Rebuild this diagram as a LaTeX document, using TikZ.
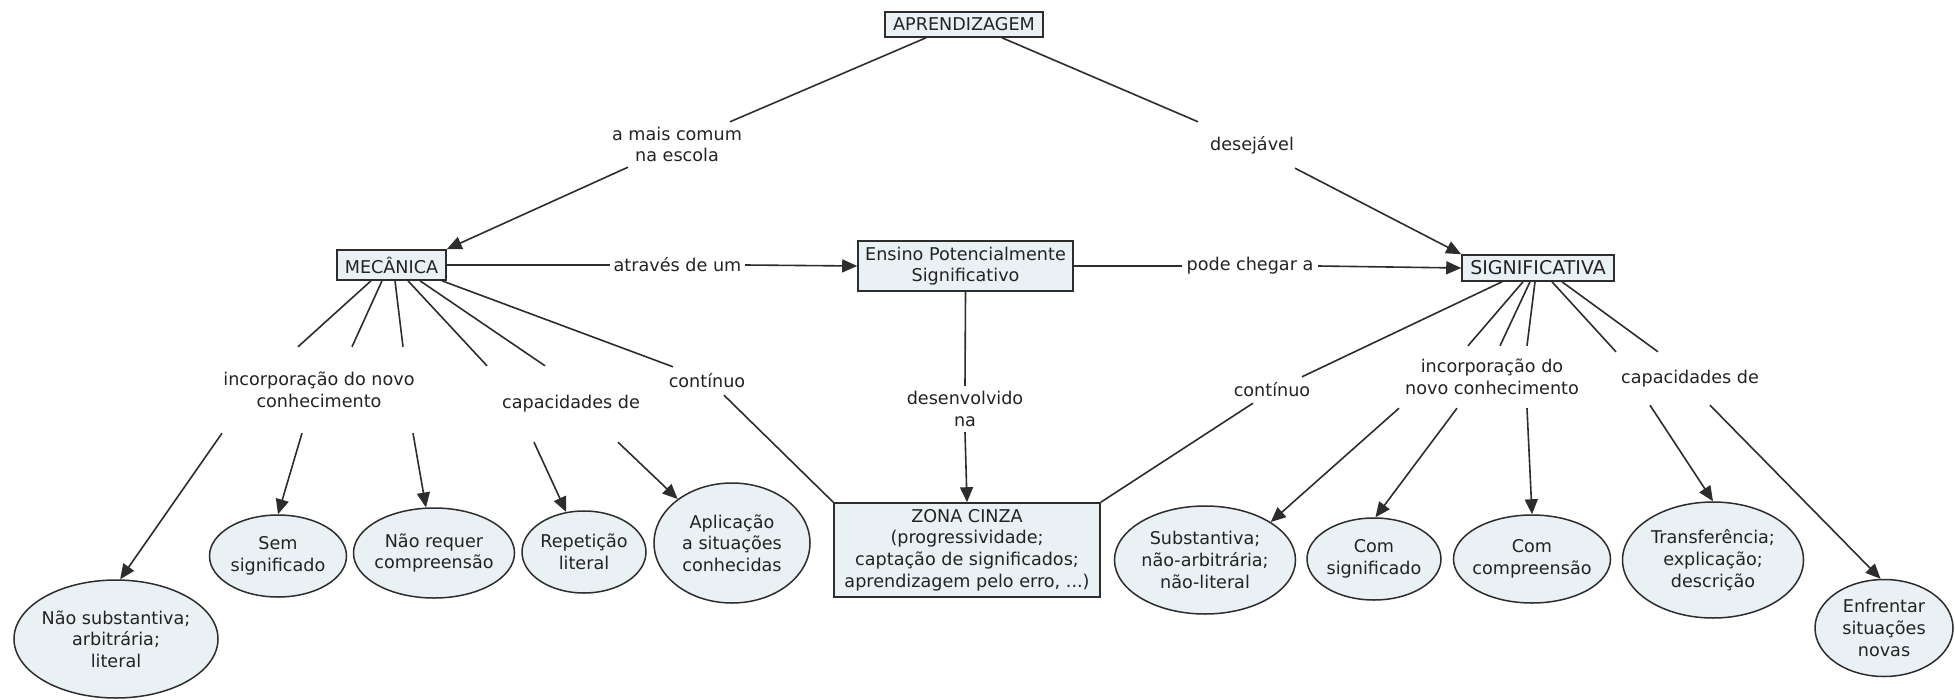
\documentclass[tikz,border=0pt]{standalone}
\usepackage{fontspec}
\setmainfont{DejaVu Sans}
\usetikzlibrary{arrows.meta,shapes.geometric}

\definecolor{conceptfill}{RGB}{233,241,245}
\definecolor{ink}{RGB}{35,35,35}
\definecolor{edge}{RGB}{45,45,45}

\tikzset{
  every node/.style={font=\fontsize{17.6pt}{21.7pt}\selectfont, text=ink},
  conceptbox/.style={draw=edge, line width=1.6pt, fill=conceptfill, rectangle,
    inner sep=0pt, align=center},
  conceptoval/.style={draw=edge, line width=1.5pt, fill=conceptfill, ellipse,
    inner sep=-25pt, align=center},
  linkphrase/.style={inner sep=0pt, align=center},
  link/.style={draw=edge, line width=1.6pt},
  linkarrow/.style={link, -{Triangle[length=15pt,width=13pt]}},
}

\begin{document}
\begin{tikzpicture}[x=1pt,y=-1pt]
\useasboundingbox (0,0) rectangle (1955,699);
\fill[white] (0,0) rectangle (1955,699);

% main concepts
\node[conceptbox, minimum width=158pt, minimum height=25pt] (apr) at (964,24.5) {APRENDIZAGEM};
\node[conceptbox, minimum width=109pt, minimum height=30pt] (mec) at (391.5,265) {MECÂNICA};
\node[conceptbox, minimum width=215pt, minimum height=50pt] (eps) at (965.5,266) {Ensino Potencialmente\\Significativo};
\node[conceptbox, minimum width=152pt, minimum height=26pt,
      font=\fontsize{19pt}{22pt}\selectfont] (sig) at (1538,268) {SIGNIFICATIVA};
\node[conceptbox, minimum width=266pt, minimum height=94pt] (zona) at (967,550)
  {ZONA CINZA\\(progressividade;\\captação de significados;\\aprendizagem pelo erro, ...)};

% outcome concepts
\node[conceptoval, minimum width=204pt, minimum height=118pt] (e1) at (116,639) {Não substantiva;\\arbitrária;\\literal};
\node[conceptoval, minimum width=137pt, minimum height=82pt] (e2) at (278,556) {Sem\\significado};
\node[conceptoval, minimum width=161pt, minimum height=90pt] (e3) at (434,553) {Não requer\\compreensão};
\node[conceptoval, minimum width=124pt, minimum height=82pt] (e4) at (584,552) {Repetição\\literal};
\node[conceptoval, minimum width=156pt, minimum height=120pt] (e5) at (732,543) {Aplicação\\a situações\\conhecidas};
\node[conceptoval, minimum width=181pt, minimum height=108pt] (e6) at (1205,560) {Substantiva;\\não-arbitrária;\\não-literal};
\node[conceptoval, minimum width=134pt, minimum height=82pt] (e7) at (1374,559) {Com\\significado};
\node[conceptoval, minimum width=157pt, minimum height=88pt] (e8) at (1532,559) {Com\\compreensão};
\node[conceptoval, minimum width=181pt, minimum height=116pt] (e9) at (1713,560) {Transferência;\\explicação;\\descrição};
\node[conceptoval, minimum width=138pt, minimum height=97pt] (e10) at (1884,628) {Enfrentar\\situações\\novas};

% linking phrases
\node[linkphrase, minimum height=45pt] (lab1) at (677,144.5) {a mais comum\\na escola};
\node[linkphrase, minimum height=46pt] (lab2) at (1252,145) {desejável};
\node[linkphrase, minimum width=135pt] (lab3) at (677.5,265) {através de um};
\node[linkphrase, minimum width=136pt] (lab4) at (1250,266) {pode chegar a};
\node[linkphrase, minimum height=86pt] (inc1) at (319,390) {incorporação do novo\\conhecimento};
\node[linkphrase, minimum height=76pt] (cap1) at (571,404) {capacidades de};
\node[linkphrase, minimum height=28pt] (con1) at (707,381) {contínuo};
\node[linkphrase, minimum height=46pt] (des) at (965,409) {desenvolvido\\na};
\node[linkphrase, minimum height=26pt] (con2) at (1272,390) {contínuo};
\node[linkphrase, minimum height=62pt] (inc2) at (1492,377) {incorporação do\\novo conhecimento};
\node[linkphrase, minimum height=53pt] (cap2) at (1690,378.5) {capacidades de};

% top level
\draw[link] ([xshift=-38pt]apr.south) -- ([xshift=53pt]lab1.north);
\draw[linkarrow] ([xshift=-49pt]lab1.south) -- (mec.north east);
\draw[link] ([xshift=38pt]apr.south) -- ([xshift=-54pt]lab2.north);
\draw[linkarrow] ([xshift=43pt]lab2.south) -- (sig.north west);
\draw[link] (mec.east) -- (lab3.west);
\draw[linkarrow] (lab3.east) -- (eps.west);
\draw[link] (eps.east) -- (lab4.west);
\draw[linkarrow] (lab4.east) -- (sig.west);
\draw[link] (eps.south) -- (des.north);
\draw[linkarrow] (des.south) -- (zona.north);

% rote learning branch
\foreach \a/\b in {-20.5/-21, -9.5/33, 3.5/84}
  \draw[link] ([xshift=\a pt]mec.south) -- ([xshift=\b pt]inc1.north);
\foreach \a/\b in {16.5/-84, 28.5/-26}
  \draw[link] ([xshift=\a pt]mec.south) -- ([xshift=\b pt]cap1.north);
\draw[link] ([xshift=50.5pt]mec.south) -- ([xshift=-34pt]con1.north);
\draw[link] ([xshift=17pt]con1.south) -- (zona.north west);
\draw[linkarrow] ([xshift=-97pt]inc1.south) -- (e1.86);
\draw[linkarrow] ([xshift=-17pt]inc1.south) -- (e2.90);
\draw[linkarrow] ([xshift=94pt]inc1.south) -- (e3.100);
\draw[linkarrow] ([xshift=-37pt]cap1.south) -- (e4.114);
\draw[linkarrow] ([xshift=47pt]cap1.south) -- (e5.141);

% meaningful learning branch
\draw[link] ([xshift=-36pt]sig.south) -- ([xshift=30pt]con2.north);
\draw[link] ([xshift=-19pt]con2.south) -- (zona.north east);
\foreach \a/\b in {-15/-24, -8/8, -3/35}
  \draw[link] ([xshift=\a pt]sig.south) -- ([xshift=\b pt]inc2.north);
\foreach \a/\b in {14/-74, 24/-32}
  \draw[link] ([xshift=\a pt]sig.south) -- ([xshift=\b pt]cap2.north);
\draw[linkarrow] ([xshift=-93pt]inc2.south) -- (e6.30);
\draw[linkarrow] ([xshift=-35pt]inc2.south) -- (e7.88);
\draw[linkarrow] ([xshift=35pt]inc2.south) -- (e8.90);
\draw[linkarrow] ([xshift=-40pt]cap2.south) -- (e9.90);
\draw[linkarrow] ([xshift=20pt]cap2.south) -- (e10.94);
\end{tikzpicture}
\end{document}
